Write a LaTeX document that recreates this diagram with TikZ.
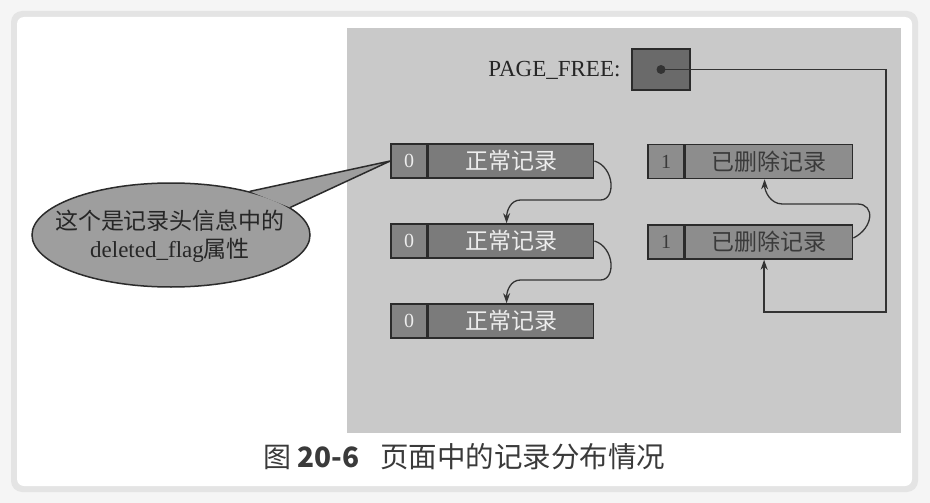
\documentclass[tikz,border=0pt]{standalone}
\usepackage{fontspec}
\setmainfont{Liberation Serif}
\newfontfamily\cjk{Noto Sans CJK SC}
\usetikzlibrary{shapes.geometric,arrows.meta,calc}
\definecolor{outerbg}{HTML}{F5F5F5}
\definecolor{cardrim}{HTML}{E4E4E4}
\definecolor{panelc}{HTML}{C9C9C9}
\definecolor{recline}{HTML}{2B2B2B}
\definecolor{nfill}{HTML}{7B7B7B}
\definecolor{nflagfill}{HTML}{838383}
\definecolor{dfill}{HTML}{8D8D8D}
\definecolor{pffill}{HTML}{6A6A6A}
\definecolor{callfill}{HTML}{9E9E9E}
\definecolor{ntext}{HTML}{EDEDED}
\definecolor{dtext}{HTML}{3A3A3A}
\definecolor{linec}{HTML}{333333}
\definecolor{captext}{HTML}{3A3A3A}
\begin{document}
\begin{tikzpicture}[x=1pt,y=-1pt,
  recbase/.style={draw=recline, line width=1.6pt, minimum height=34pt, inner sep=0pt},
  nflag/.style={recbase, fill=nflagfill, minimum width=36pt, text=ntext, font=\fontsize{20}{20}\selectfont},
  ntextbox/.style={recbase, fill=nfill, minimum width=165pt, text=ntext, font=\cjk\fontsize{23}{23}\selectfont},
  dflag/.style={recbase, fill=dfill, minimum width=36pt, text=dtext, font=\fontsize{20}{20}\selectfont},
  dtextbox/.style={recbase, fill=dfill, minimum width=167pt, text=dtext, font=\cjk\fontsize{23}{23}\selectfont},
  conn/.style={draw=linec, line width=1.3pt, -{Stealth[length=10pt,width=7pt]}},
  callout/.style={ellipse, draw=recline, fill=callfill, line width=1.5pt, minimum width=278pt, minimum height=104pt, inner sep=0pt}
]
\useasboundingbox (0,0) rectangle (930,503);
% frame
\fill[outerbg] (0,0) rectangle (930,503);
\fill[cardrim, rounded corners=11pt] (11,11) rectangle (918,492);
\fill[white, rounded corners=7pt] (17,17) rectangle (912,486);
% panel
\fill[panelc] (347,28) rectangle (901,433);

% PAGE_FREE
\node[draw=recline, line width=1.6pt, fill=pffill, minimum width=58pt, minimum height=41pt, inner sep=0pt] (pf) at (661,69.5) {};
\node[anchor=base east, font=\fontsize{23}{23}\selectfont, text=black!85] (pfl) at (624,77) {PAGE\_FREE:};
\fill[black!80] (pf.center) circle[radius=4.5];

% normal records
\node[nflag] (f1) at (409,161) {0};
\node[ntextbox, anchor=west] (n1) at (f1.east) {正常记录};
\node[nflag] (f2) at (409,241) {0};
\node[ntextbox, anchor=west] (n2) at (f2.east) {正常记录};
\node[nflag] (f3) at (409,321) {0};
\node[ntextbox, anchor=west] (n3) at (f3.east) {正常记录};

% deleted records
\node[dflag] (g1) at (666,161.5) {1};
\node[dtextbox, anchor=west] (d1) at (g1.east) {已删除记录};
\node[dflag] (g2) at (666,242) {1};
\node[dtextbox, anchor=west] (d2) at (g2.east) {已删除记录};

% next-record links
\draw[conn] (n1.east) .. controls +(20,6) and +(16,0) .. ++(6,39) -- ++(-80,0) .. controls +(-10,0) and +(0,-12) .. ([xshift=-4.5pt]n2.north);
\draw[conn] (n2.east) .. controls +(20,6) and +(16,0) .. ++(6,39) -- ++(-80,0) .. controls +(-10,0) and +(0,-12) .. ([xshift=-4.5pt]n3.north);
\draw[conn] ([yshift=4pt]d2.east) .. controls +(20,-10) and +(18,0) .. ++(4,-34) -- ++(-75,0) .. controls +(-12,0) and +(0,12) .. ([xshift=-4.5pt]d1.south);

% free list head
\coordinate (c1) at (886,312);
\draw[conn] (pf.center) -| (c1) -| ([xshift=-5pt]d2.south);

% callout
\node[callout] (call) at (171,235) {};
\fill[callfill] (call.29) -- (f1.west) -- (call.13) -- cycle;
\draw[draw=recline, line width=1.5pt, line join=round] (call.29) -- (f1.west) -- (call.13);
\node[align=center, text=black!85, font=\cjk\fontsize{23}{28}\selectfont] (ct) at (170,236) {这个是记录头信息中的\\{\rmfamily deleted\_flag}属性};

% caption
\node[anchor=west, inner sep=0pt, text=captext, font=\cjk\fontsize{28}{28}\selectfont] (cap1) at (263,457) {图 \textbf{20-6}};
\node[anchor=west, inner sep=0pt, text=captext, font=\cjk\fontsize{28.5}{28.5}\selectfont] (cap2) at (380,457) {页面中的记录分布情况};
\end{tikzpicture}
\end{document}
